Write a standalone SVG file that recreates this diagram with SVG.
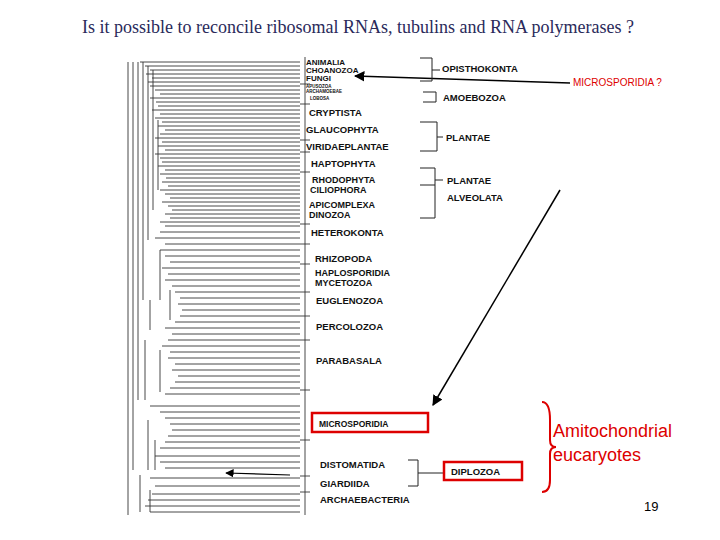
<svg xmlns="http://www.w3.org/2000/svg" width="720" height="540" viewBox="0 0 720 540">
<defs>
<style>
.t{font-family:"Liberation Sans",Arial,sans-serif;font-weight:bold;font-size:9.5px;fill:#111}
.v{font-family:"Liberation Sans",Arial,sans-serif;font-weight:bold;font-size:9px;fill:#111}
.u{font-family:"Liberation Sans",Arial,sans-serif;font-weight:bold;font-size:8px;fill:#111}
.s{font-family:"Liberation Sans",Arial,sans-serif;font-weight:bold;font-size:4.5px;fill:#111}
.br{fill:none;stroke:#222;stroke-width:1}
.tree{fill:none;stroke:#333;stroke-width:0.9}
</style>
<marker id="ah" viewBox="0 0 10 10" refX="9" refY="5" markerWidth="7" markerHeight="7" orient="auto"><path d="M0,0L10,5L0,10z" fill="#000"/></marker>
</defs>
<rect width="720" height="540" fill="#fff"/>
<text x="358" y="33" text-anchor="middle" font-family="Liberation Serif,serif" font-size="18" fill="#2a2a5a">Is it possible to reconcile ribosomal RNAs, tubulins and RNA polymerases ?</text>
<g id="connectors">
<path class="tree" d="M128 62V515 M133 62V470 M138 62V400 M143 62V300 M148 66V240 M153 70V210 M158 120V190 M150 300V330 M160 250V300 M170 290V320 M145 340V400 M160 350V392 M148 420V470 M155 440V470 M140 475V512 M150 490V512
M140 62H300 M145 66H300 M150 70H300 M146 74H300 M152 78H300 M148 82H300 M150 86H300 M155 90H300 M160 94H300 M150 98H300 M156 102H300 M158 106H300 M152 110H300 M160 114H300 M155 118H300 M162 122H300 M158 126H300 M165 130H300 M160 134H300 M155 138H300 M162 142H300 M158 146H300 M165 150H300 M155 154H300 M160 158H300 M162 162H300 M158 166H300 M165 170H300 M160 174H300 M166 178H300 M162 182H300 M168 186H300 M160 190H300 M165 194H300 M170 198H300 M162 202H300 M168 206H300 M172 210H300 M165 214H300 M170 218H300 M160 222H300 M165 226H300 M160 232H300 M155 238H300 M165 244H300 M160 250H300 M165 256H300 M170 262H300 M162 268H300 M168 274H300 M165 280H300 M172 286H300 M175 292H300 M180 298H300 M178 304H300 M182 310H300 M180 316H300 M175 322H300 M165 328H300 M172 334H300 M168 340H300 M162 346H300 M170 352H300 M168 358H300 M175 364H300 M172 370H300 M178 376H300 M175 382H300 M170 388H300 M165 394H300 M150 406H300 M160 412H300 M165 418H300 M170 424H300 M172 430H300 M168 436H300 M165 442H300 M160 448H300 M155 456H300 M160 462H300 M165 468H300 M150 478H300 M155 486H300 M152 494H300 M148 500H300 M145 506H300 M150 512H300"/>
<path class="tree" d="M305 57V515 M300 84H310 M300 104H310 M300 140H310 M300 152H310 M300 172H310 M300 224H310 M300 244H310 M300 264H310 M300 292H310 M300 316H310 M300 340H310 M300 390H310 M300 440H310 M300 476H310 M300 492H310"/>
<path d="M570 83L355 76" stroke="#000" stroke-width="1.5" marker-end="url(#ah)"/>
<path d="M560 190L433 405" stroke="#000" stroke-width="1.5" marker-end="url(#ah)"/>
<path d="M290 475L226 473" stroke="#000" stroke-width="1.2" marker-end="url(#ah)"/>
<path d="M542 402Q550 402 550 420V440Q550 447 556 447Q550 447 550 454V480Q550 492 542 492" fill="none" stroke="#d00" stroke-width="2"/>
</g>
<g id="labels">
<text class="u" x="306" y="65">ANIMALIA</text>
<text class="u" x="306" y="73">CHOANOZOA</text>
<text class="u" x="306" y="81">FUNGI</text>
<text class="s" x="306" y="88">APUSOZOA</text>
<text class="s" x="306" y="93">ARCHAMOEBAE</text>
<text class="s" x="310" y="100">LOBOSA</text>
<text class="t" x="309" y="116">CRYPTISTA</text>
<text class="t" x="306" y="133">GLAUCOPHYTA</text>
<text class="t" x="306" y="150">VIRIDAEPLANTAE</text>
<text class="t" x="311" y="167">HAPTOPHYTA</text>
<text class="v" x="312" y="183">RHODOPHYTA</text>
<text class="v" x="310" y="193">CILIOPHORA</text>
<text class="v" x="309" y="208">APICOMPLEXA</text>
<text class="v" x="309" y="218">DINOZOA</text>
<text class="t" x="311" y="236">HETEROKONTA</text>
<text class="t" x="315" y="262">RHIZOPODA</text>
<text class="v" x="315" y="276">HAPLOSPORIDIA</text>
<text class="v" x="315" y="286">MYCETOZOA</text>
<text class="t" x="316" y="304">EUGLENOZOA</text>
<text class="t" x="316" y="330">PERCOLOZOA</text>
<text class="t" x="316" y="364">PARABASALA</text>
<g id="microsporidia"><rect x="312" y="413" width="116" height="19" fill="none" stroke="#d00" stroke-width="2.5"/><text class="t" x="319" y="427" style="font-size:8.5px">MICROSPORIDIA</text></g>
<text class="t" x="320" y="468">DISTOMATIDA</text>
<text class="t" x="320" y="487">GIARDIIDA</text>
<text class="t" x="320" y="503">ARCHAEBACTERIA</text>
</g>
<g id="groups">
<path class="br" d="M420 58H432V81H420 M432 70H440 M423 92H436V102H423 M420 122H437V151H420 M437 137H443 M420 168H435V218H420 M420 185H435 M435 180H443 M408 460H418V486H408 M418 473H443"/>
<text class="t" x="442" y="72">OPISTHOKONTA</text>
<text class="t" x="443" y="101">AMOEBOZOA</text>
<text class="t" x="446" y="141">PLANTAE</text>
<text class="t" x="447" y="184">PLANTAE</text>
<text class="t" x="447" y="201">ALVEOLATA</text>
<g id="diplozoa"><rect x="444" y="462" width="78" height="18" fill="none" stroke="#d00" stroke-width="2.5"/><text class="t" x="451" y="475">DIPLOZOA</text></g>
<text x="573" y="86" font-family="Liberation Sans,Arial,sans-serif" font-size="10" fill="#d00">MICROSPORIDIA ?</text>
<text x="553" y="437" font-family="Liberation Sans,Arial,sans-serif" font-size="18" fill="#d00">Amitochondrial</text>
<text x="553" y="461" font-family="Liberation Sans,Arial,sans-serif" font-size="18" fill="#d00">eucaryotes</text>
<text x="644" y="511" font-family="Liberation Sans,Arial,sans-serif" font-size="13" fill="#000">19</text>
</g>
</svg>
